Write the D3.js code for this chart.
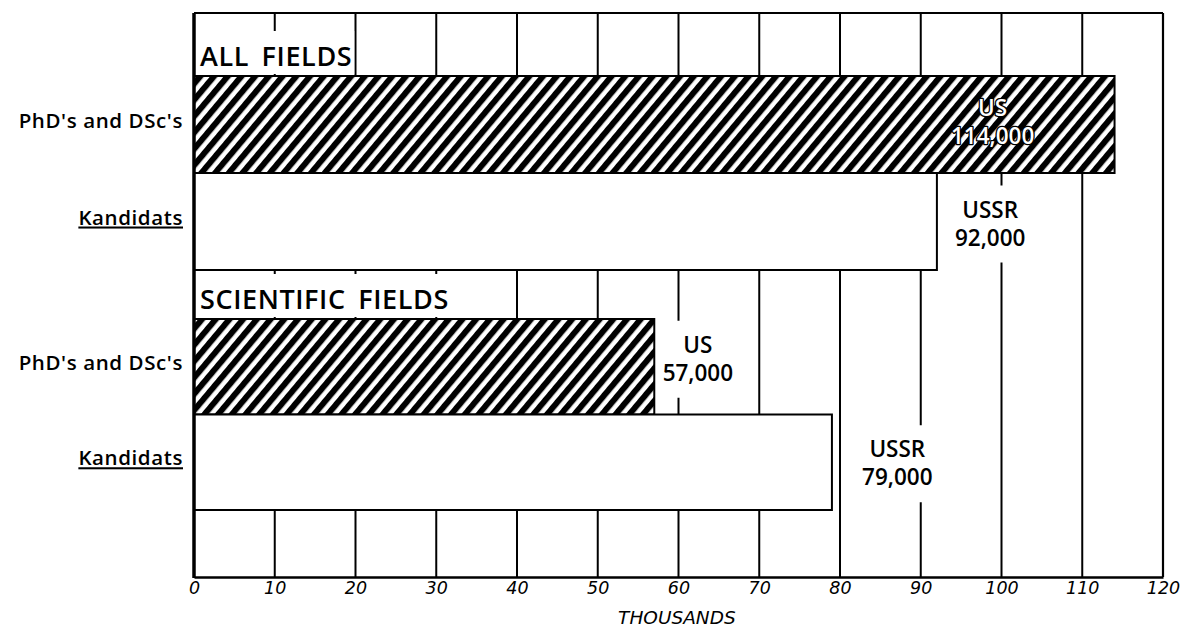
<!DOCTYPE html>
<html>
<head>
<meta charset="utf-8">
<script src="https://cdn.jsdelivr.net/npm/d3@7"></script>
<style>
  html, body { margin: 0; padding: 0; background: #fff; }
  svg { display: block; }
  text { fill: #000; }
</style>
</head>
<body>
<svg id="chart" width="1180" height="628"></svg>
<script>
// ---------- data ----------
const groups = ["ALL FIELDS", "SCIENTIFIC FIELDS"];
const categories = ["PhD's and DSc's", "Kandidats"];
const countries = ["US", "USSR"];
const allFieldsValues = [114000, 92000];
const scientificFieldsValues = [57000, 79000];
const xTickValues = [0, 10, 20, 30, 40, 50, 60, 70, 80, 90, 100, 110, 120];
const xTickLabels = ["0", "10", "20", "30", "40", "50", "60", "70", "80", "90", "100", "110", "120"];
const xAxisTitle = "THOUSANDS";

// ---------- layout ----------
const W = 1180, H = 628;
const plot = { left: 194, right: 1163, top: 13, bottom: 577 };
const groupRanges = [[76, 270], [319, 510]];
const SANS = "'Open Sans', 'DejaVu Sans', sans-serif";
const OBL = "'DejaVu Sans', sans-serif";
// annotation placement (x in thousands, y offset of first line from bar centre)
const labelPlacement = [
  [{ x: 98.9, dy: -9 }, { x: 98.6, dy: -4 }],
  [{ x: 62.4, dy: -14 }, { x: 87.1, dy: -5 }]
];

const svg = d3.select("#chart");

const x = d3.scaleLinear().domain([0, 120]).range([plot.left, plot.right]);
const yScales = groupRanges.map(r => d3.scaleBand().domain(categories).range(r).paddingInner(0).paddingOuter(0));

// hatch pattern
const defs = svg.append("defs");
const pat = defs.append("pattern")
  .attr("id", "hatch")
  .attr("patternUnits", "userSpaceOnUse")
  .attr("width", 10.5).attr("height", 10.5)
  .attr("patternTransform", "rotate(40)");
pat.append("rect").attr("width", 10.5).attr("height", 10.5).attr("fill", "#fff");
pat.append("rect").attr("x", 0).attr("width", 6).attr("height", 10.5).attr("fill", "#000");

// background
svg.append("rect").attr("width", W).attr("height", H).attr("fill", "#fff");

// vertical grid lines
svg.append("g").selectAll("line")
  .data(xTickValues.filter(d => d > 0 && d < 120))
  .join("line")
  .attr("x1", d => x(d)).attr("x2", d => x(d))
  .attr("y1", plot.top).attr("y2", plot.bottom)
  .attr("stroke", "#000").attr("stroke-width", 2);

// frame
svg.append("line").attr("x1", plot.left).attr("x2", plot.right).attr("y1", plot.top).attr("y2", plot.top)
  .attr("stroke", "#000").attr("stroke-width", 2.2);
svg.append("line").attr("x1", plot.right).attr("x2", plot.right).attr("y1", plot.top).attr("y2", plot.bottom)
  .attr("stroke", "#000").attr("stroke-width", 2.2);

// data rows
const groupData = [allFieldsValues, scientificFieldsValues];
const rows = [];
groups.forEach((g, gi) => {
  categories.forEach((c, ci) => {
    rows.push({ group: g, gi, category: c, ci, country: countries[ci], value: groupData[gi][ci] });
  });
});

// group title labels with white halo boxes
const titleG = svg.append("g");
groups.forEach((g, gi) => {
  const yTop = groupRanges[gi][0];
  const t = titleG.append("text")
    .attr("x", plot.left + 6)
    .attr("y", yTop - 10)
    .style("font-family", SANS)
    .style("font-size", "27px")
    .style("font-weight", 600)
    .style("letter-spacing", "0.6px")
    .style("word-spacing", "5px")
    .text(g);
  const bb = t.node().getBBox();
  titleG.insert("rect", "text")
    .attr("x", bb.x - 3).attr("y", bb.y - 6)
    .attr("width", bb.width + 5).attr("height", bb.height + 6)
    .attr("fill", "#fff");
});

// bars
svg.append("g").selectAll("rect")
  .data(rows)
  .join("rect")
  .attr("x", x(0))
  .attr("y", d => yScales[d.gi](d.category))
  .attr("width", d => x(d.value / 1000) - x(0))
  .attr("height", d => yScales[d.gi].bandwidth())
  .attr("fill", d => d.ci === 0 ? "url(#hatch)" : "#fff")
  .attr("stroke", "#000").attr("stroke-width", 2);

// value labels
const fmt = d3.format(",");
const valG = svg.append("g");
rows.forEach(d => {
  const p = labelPlacement[d.gi][d.ci];
  const cx = x(p.x);
  const cy = yScales[d.gi](d.category) + yScales[d.gi].bandwidth() / 2 + p.dy;
  const inside = x(d.value / 1000) > cx + 40;
  const g = valG.append("g");
  const t = g.append("text")
    .attr("x", cx).attr("y", cy)
    .attr("text-anchor", "middle")
    .style("font-family", SANS)
    .style("font-size", "22.5px")
    .style("font-weight", 600);
  t.append("tspan").attr("x", cx).attr("dy", 0).text(d.country);
  t.append("tspan").attr("x", cx).attr("dy", 28).text(fmt(d.value));
  if (inside) {
    t.style("fill", "#fff").style("stroke", "#000").style("stroke-width", "2.6px")
     .style("paint-order", "stroke").style("stroke-linejoin", "round");
  } else {
    const bb = t.node().getBBox();
    g.insert("rect", "text")
      .attr("x", bb.x - 4).attr("y", bb.y - 8)
      .attr("width", bb.width + 8).attr("height", bb.height + 18)
      .attr("fill", "#fff");
  }
});

// category labels (left)
const catG = svg.append("g");
rows.forEach(d => {
  const cy = yScales[d.gi](d.category) + yScales[d.gi].bandwidth() / 2;
  catG.append("text")
    .attr("x", 183)
    .attr("y", cy + 3)
    .attr("text-anchor", "end")
    .style("font-family", SANS)
    .style("font-size", "20.5px")
    .style("font-weight", 600)
    .style("letter-spacing", "0.6px")
    .style("text-decoration", d.ci === 1 ? "underline" : "none")
    .text(d.category);
});

// left axis line and bottom axis
svg.append("line").attr("x1", plot.left).attr("x2", plot.left).attr("y1", plot.top).attr("y2", plot.bottom + 1)
  .attr("stroke", "#000").attr("stroke-width", 3.5);

const xAxis = d3.axisBottom(x)
  .tickValues(xTickValues)
  .tickFormat((d, i) => xTickLabels[i])
  .tickSize(0)
  .tickPadding(5);
const axG = svg.append("g").attr("transform", `translate(0,${plot.bottom})`).call(xAxis);
axG.select(".domain").attr("stroke", "#000").attr("stroke-width", 2.5);
axG.selectAll(".tick text")
  .style("font-family", OBL)
  .style("font-style", "italic")
  .style("font-size", "17.5px")
  .style("fill", "#000");

svg.append("text")
  .attr("x", x(59.8))
  .attr("y", 624)
  .attr("text-anchor", "middle")
  .style("font-family", OBL)
  .style("font-style", "italic")
  .style("font-size", "18.5px")
  .text(xAxisTitle);
</script>
</body>
</html>
